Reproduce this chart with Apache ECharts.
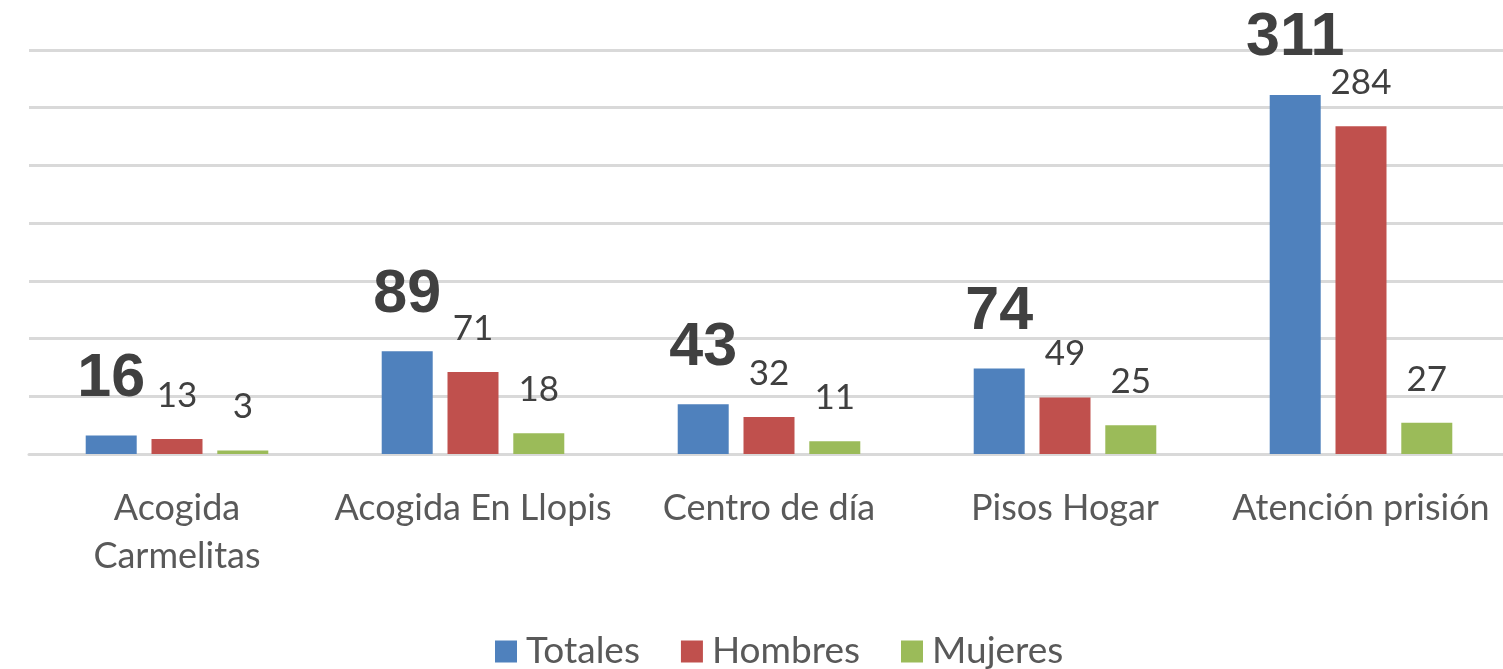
<!DOCTYPE html>
<html><head><meta charset="utf-8">
<script src="https://cdn.jsdelivr.net/npm/echarts@6/dist/echarts.min.js"></script>
<style>html,body{margin:0;padding:0;background:#fff;overflow:hidden}#c{width:1512px;height:669px}</style>
</head><body><div id="c"></div>
<script>
const categories = ['Acogida\nCarmelitas', 'Acogida En Llopis', 'Centro de día', 'Pisos Hogar', 'Atención prisión'];
const totales = [16, 89, 43, 74, 311];
const hombres = [13, 71, 32, 49, 284];
const mujeres = [3, 18, 11, 25, 27];
const seriesNames = ['Totales', 'Hombres', 'Mujeres'];

const chart = echarts.init(document.getElementById('c'));
const smallLabel = {show: true, position: 'top', distance: 26, color: '#404040', fontSize: 35, fontFamily: 'Lato'};
chart.setOption({
  animation: false,
  color: ['#4F81BD', '#C0504D', '#9BBB59'],
  grid: {left: 29, right: 3, top: 50, bottom: 215},
  legend: {
    data: seriesNames, bottom: -6, left: 490, itemWidth: 22, itemHeight: 22, itemGap: 41,
    icon: 'rect',
    textStyle: {fontSize: 37, color: '#595959', fontFamily: 'Lato', padding: [0,0,0,4]}
  },
  xAxis: {
    type: 'category', data: categories,
    axisLine: {show: true, lineStyle: {color: '#D9D9D9', width: 3}},
    axisTick: {show: false},
    axisLabel: {color: '#595959', fontSize: 36, fontFamily: 'Lato', margin: 30, lineHeight: 48, interval: 0}
  },
  yAxis: {
    type: 'value', min: 0, max: 350, interval: 50,
    axisLabel: {show: false}, axisLine: {show: false}, axisTick: {show: false},
    splitLine: {lineStyle: {color: '#D9D9D9', width: 3}}
  },
  series: [
    {name: 'Totales', type: 'bar', data: totales, barWidth: 51, barGap: '29%',
     label: {show: true, position: 'top', distance: 26, color: '#404040', fontSize: 61, fontWeight: 'bold', fontFamily: 'Liberation Sans'}},
    {name: 'Hombres', type: 'bar', data: hombres, barWidth: 51, barGap: '29%', label: smallLabel},
    {name: 'Mujeres', type: 'bar', data: mujeres, barWidth: 51, barGap: '29%', label: smallLabel}
  ]
});
</script></body></html>
